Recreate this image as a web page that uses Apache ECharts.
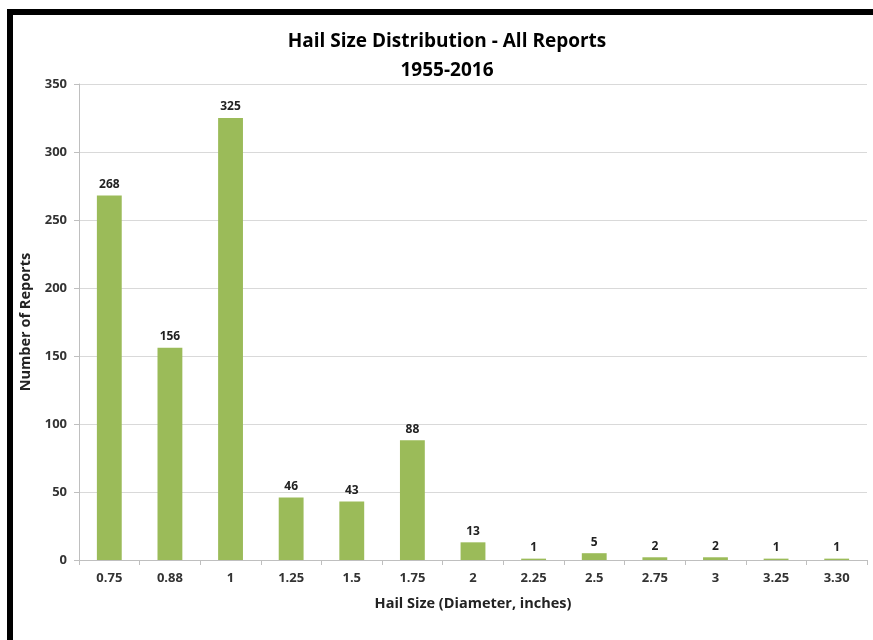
<!DOCTYPE html>
<html>
<head>
<meta charset="utf-8">
<script src="https://cdn.jsdelivr.net/npm/echarts@6/dist/echarts.min.js"></script>
<style>
html,body{margin:0;padding:0;background:#fff;}
#wrap{position:relative;width:873px;height:640px;overflow:hidden;background:#fff;}
#frame{position:absolute;left:7px;top:9px;width:880px;height:640px;border-top:6px solid #000;border-left:6px solid #000;box-sizing:border-box;}
#chart{position:absolute;left:0;top:0;width:873px;height:640px;}
</style>
</head>
<body>
<div id="wrap">
<div id="frame"></div>
<div id="chart"></div>
</div>
<script>
const categories = ['0.75','0.88','1','1.25','1.5','1.75','2','2.25','2.5','2.75','3','3.25','3.30'];
const reports = [268,156,325,46,43,88,13,1,5,2,2,1,1];
const yTicks = {min:0, max:350, interval:50};

const chart = echarts.init(document.getElementById('chart'), null, {renderer:'canvas'});
const font = '"Open Sans", "Liberation Sans", sans-serif';
chart.setOption({
  backgroundColor:'transparent',
  animation:false,
  title:{
    text:'Hail Size Distribution - All Reports\n1955-2016',
    left:442, top:22, textAlign:'center',
    textStyle:{fontFamily:font, fontSize:19, fontWeight:'bold', color:'#000', lineHeight:29}
  },
  grid:{left:79, right:6, top:84, bottom:80},
  xAxis:{
    type:'category', data:categories,
    name:'Hail Size (Diameter, inches)', nameLocation:'middle', nameGap:36,
    nameTextStyle:{fontFamily:font, fontSize:14.5, fontWeight:'bold', color:'#222'},
    axisLine:{lineStyle:{color:'#bfbfbf'}},
    axisTick:{show:true, length:5, lineStyle:{color:'#bfbfbf'}},
    axisLabel:{fontFamily:font, fontSize:13, fontWeight:'bold', color:'#333', margin:12}
  },
  yAxis:{
    type:'value', min:yTicks.min, max:yTicks.max, interval:yTicks.interval,
    name:'Number of Reports', nameLocation:'middle', nameGap:36, nameRotate:90,
    nameTextStyle:{fontFamily:font, fontSize:14.5, fontWeight:'bold', color:'#222'},
    axisLine:{show:true, lineStyle:{color:'#bfbfbf'}},
    axisTick:{show:true, length:5, lineStyle:{color:'#bfbfbf'}},
    axisLabel:{fontFamily:font, fontSize:13, fontWeight:'bold', color:'#333', margin:12},
    splitLine:{lineStyle:{color:'#d9d9d9'}}
  },
  series:[{
    type:'bar', data:reports, barWidth:'41%',
    itemStyle:{color:'#9bbb59'},
    label:{show:true, position:'top', distance:5, fontFamily:font, fontSize:12, fontWeight:'bold', color:'#222'}
  }]
});
</script>
</body>
</html>
